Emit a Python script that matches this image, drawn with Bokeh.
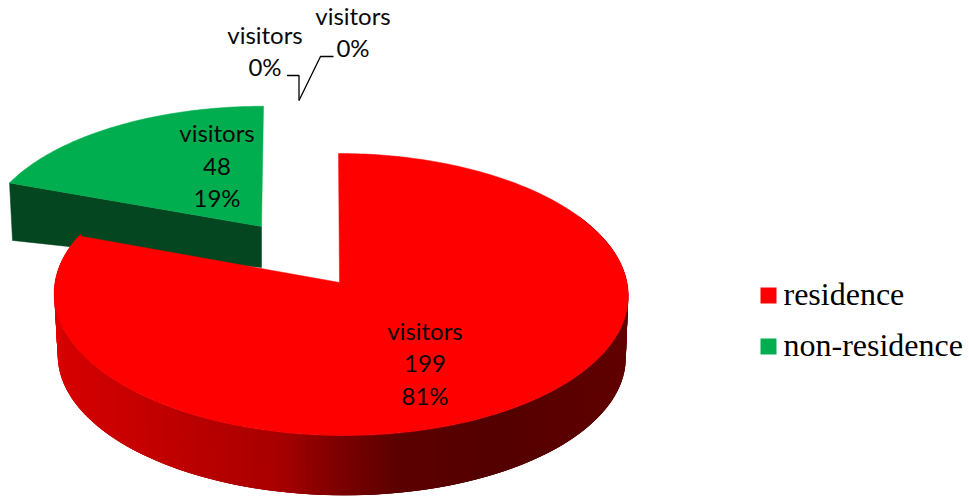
import numpy as np
from bokeh.plotting import figure
from bokeh.models import Range1d
from bokeh.core.properties import value
from bokeh.embed import file_html
from bokeh.resources import INLINE

# --- data
categories = ["residence", "non-residence", "residence2", "non-residence2"]
legend_labels = ["residence", "non-residence"]
series_name = "visitors"
values = [199, 48, 0, 0]

RED, GREEN = "#ff0000", "#00ae4f"
DARK_GREEN = "#04461f"
total = sum(values)
fracs = np.cumsum([0] + values) / total * 2 * np.pi
pcts = [f"{round(100 * v / total)}%" for v in values]


def rim(theta, ax, ay, a, b, k, s=0.0):
    """Projected rim of a tilted pie: theta clockwise from 12 o'clock."""
    u, v = np.sin(theta), np.cos(theta)
    w = 1 + k * v
    return ax + (a * u + s * v) / w, ay - b * v / w


p = figure(width=969, height=500, output_backend="svg", toolbar_location=None,
           x_range=Range1d(0, 969), y_range=Range1d(500, 0),
           min_border=0, outline_line_color=None, background_fill_color="white",
           border_fill_color="white")
p.axis.visible = False
p.grid.visible = False

# --- green slice (exploded, behind)
g0, g1 = fracs[1], fracs[2]
G = dict(ax=261.0, ay=226.0, a=277.3, b=131.1, k=0.09, s=2.2)
gx, gy = rim(np.linspace(g0, g1, 90), **G)
p.patch([gx[0], G["ax"], G["ax"], gx[0] + 3], [gy[0], G["ay"], G["ay"] + 41, gy[0] + 57.5],
        fill_color=DARK_GREEN, line_color=DARK_GREEN, line_width=0.5)
p.patch(list(gx) + [G["ax"]], list(gy) + [G["ay"]], fill_color=GREEN, line_color=GREEN, line_width=0.5)

# --- red slice: wall strips (each overlaps the next, so no seams) then top
r0, r1 = fracs[0], fracs[1]
R = dict(ax=340.5, ay=282.0, a=286.0, b=140.0, k=0.0851, s=-2.7)
Rb = dict(ax=341.0, ay=344.0, a=283.0, b=138.0, k=0.0851, s=-2.7)
apex = (339.0, 282.0)
th = np.radians(np.linspace(60, 291, 232))
tx, ty = rim(th, **R)
bx, by = rim(th, **Rb)
stop_x = [54, 60, 170, 280, 340, 400, 500, 627]
stop_r = [225, 214, 192, 168, 125, 92, 84, 97]
xs, ys, cols = [], [], []
for i in range(len(th) - 3):
    xs.append([tx[i], tx[i + 3], bx[i + 3], bx[i]])
    ys.append([ty[i], ty[i + 3], by[i + 3], by[i]])
    r = int(np.interp(tx[i], stop_x, stop_r))
    cols.append(f"#{r:02x}0000")
p.patches(xs, ys, fill_color=cols, line_color=None)

rx, ry = rim(np.linspace(r0, r1, 300), **R)
p.patch(list(rx) + [apex[0]], list(ry) + [apex[1]], fill_color=RED, line_color=RED, line_width=0.5)

# --- leader lines for the zero slices
p.line([286.5, 298.5, 298.5], [75, 75, 100], line_color="black", line_width=1.3)
p.line([298.5, 320, 333], [100, 56, 56], line_color="black", line_width=1.3)

# --- data labels
FS = "24px"
label_rows = [
    (424.5, [329.5, 362.5, 394.5], [series_name, str(values[0]), pcts[0]]),
    (216.5, [131.5, 165.5, 196.5], [series_name, str(values[1]), pcts[1]]),
    (264.5, [33.5, 65.5], [series_name, pcts[2]]),
    (352.5, [14.5, 46.5], [series_name, pcts[3]]),
]
for x, yl, tl in label_rows:
    p.text([x] * len(tl), yl, text=tl, text_font=value("Lato"), text_font_size=FS,
           text_align="center", text_baseline="middle", text_color="#0a0a0a")

# --- legend
for yc, name, col in zip([295, 346], legend_labels, [RED, GREEN]):
    p.quad(left=[760], right=[776], top=[yc - 8], bottom=[yc + 8], fill_color=col, line_color=None)
    p.text([783], [yc - 2], text=[name], text_font=value("Liberation Serif"), text_font_size="32px",
           text_align="left", text_baseline="middle", text_color="black")

open("out.html", "w").write(file_html(p, INLINE))
